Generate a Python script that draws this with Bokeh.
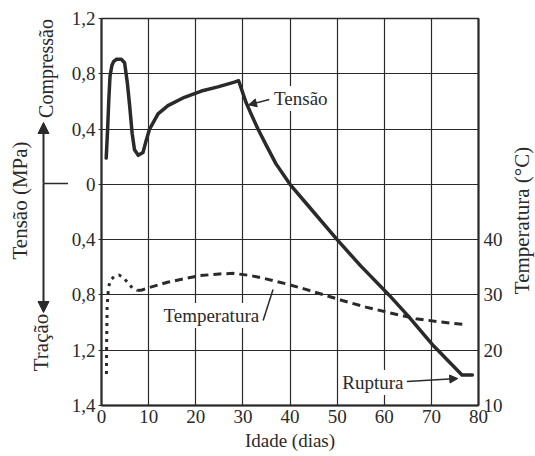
from math import pi
from bokeh.plotting import figure
from bokeh.layouts import row
from bokeh.models import Range1d, LinearAxis, FixedTicker, Label, Arrow, NormalHead
from bokeh.embed import file_html
from bokeh.resources import INLINE

# ---- data ----
days_tension = [1.0, 1.3, 1.55, 1.8, 2.2, 2.6, 3.2, 4.2, 4.9, 5.5, 6.0, 6.5, 7.0, 7.8,
                8.8, 9.5, 10.2, 12.0, 14.1, 17.6, 21.2, 24.7, 28.2, 29.1, 30.7, 32.0,
                33.2, 35.0, 37.0, 40.0, 45.0, 50.0, 55.0, 61.0, 65.0, 70.5, 76.5, 78.7]
tension_mpa = [0.19, 0.40, 0.61, 0.78, 0.86, 0.89, 0.905, 0.905, 0.88, 0.73, 0.56, 0.37,
               0.25, 0.21, 0.23, 0.32, 0.40, 0.51, 0.57, 0.63, 0.675, 0.705, 0.74, 0.75,
               0.59, 0.49, 0.40, 0.28, 0.15, 0.0, -0.20, -0.40, -0.59, -0.80, -0.95,
               -1.17, -1.38, -1.38]

days_temp = [1.05, 1.1, 1.2, 1.5, 2.0, 2.8, 3.7, 4.6, 5.6, 6.6, 7.6, 8.6, 10.0, 14.0,
             18.0, 21.0, 25.0, 28.0, 31.7, 34.9, 39.2, 43.0, 47.6, 51.1, 56.1, 61.0,
             66.7, 72.0, 77.6]
temperature_c = [15.7, 22.0, 28.0, 31.5, 32.8, 33.4, 33.6, 33.2, 32.2, 31.2, 30.8, 30.9,
                 31.3, 32.3, 33.0, 33.5, 33.8, 33.9, 33.5, 32.9, 32.0, 31.1, 29.9, 29.0,
                 27.8, 26.8, 25.7, 25.1, 24.6]

x_ticks = [0, 10, 20, 30, 40, 50, 60, 70, 80]
tension_ticks = [-1.6, -1.2, -0.8, -0.4, 0.0, 0.4, 0.8, 1.2]
tension_tick_labels = ["1,4", "1,2", "0,8", "0,4", "0", "0,4", "0,8", "1,2"]
temp_ticks = [10, 20, 30, 40]

FONT = "'Liberation Serif', 'Times New Roman', serif"
INK = "#2a2a2a"
FS = "19px"
FS_ROT = "21px"
H = 456
TOP, BOTTOM = 18, 51          # borders of the plotting frame (shared by the row)

# ---------------- main chart ----------------
p = figure(width=440, height=H, output_backend="svg", toolbar_location=None,
           x_range=Range1d(0, 80), y_range=Range1d(-1.6, 1.2),
           min_border_left=32, min_border_right=30, min_border_top=TOP,
           min_border_bottom=BOTTOM, background_fill_color="white",
           border_fill_color="white")
p.extra_y_ranges = {"temp": Range1d(10, 80)}
p.outline_line_color = INK
p.outline_line_width = 1.5

p.xaxis.ticker = FixedTicker(ticks=x_ticks)
p.yaxis.ticker = FixedTicker(ticks=tension_ticks)
p.yaxis.major_label_overrides = dict(zip(tension_ticks, tension_tick_labels))
right = LinearAxis(y_range_name="temp", ticker=FixedTicker(ticks=temp_ticks))
p.add_layout(right, "right")
p.xaxis.axis_label = "Idade (dias)"

for ax in [p.xaxis[0], p.yaxis[0], right]:
    ax.axis_line_color = INK
    ax.axis_line_width = 2
    ax.major_tick_in = 0
    ax.minor_tick_line_color = None
    ax.major_label_text_font = FONT
    ax.major_label_text_font_size = FS
    ax.major_label_text_color = INK
    ax.major_tick_line_color = INK
    ax.major_tick_line_width = 1.2
    ax.axis_label_text_font = FONT
    ax.axis_label_text_font_style = "normal"
    ax.axis_label_text_color = INK
p.xaxis.major_tick_out = 0
p.xaxis.major_label_standoff = 4
p.xaxis.axis_label_text_font_size = FS
p.xaxis.axis_label_standoff = 4
p.yaxis.major_tick_out = 3
p.yaxis.major_label_standoff = 3
right.major_tick_out = 0
right.major_label_standoff = 5

p.xgrid.ticker = FixedTicker(ticks=x_ticks)
p.ygrid.ticker = FixedTicker(ticks=tension_ticks)
for g in [p.xgrid[0], p.ygrid[0]]:
    g.grid_line_color = INK
    g.grid_line_width = 1.2
    g.grid_line_alpha = 1.0

p.line(days_tension, tension_mpa, line_width=3.5, line_color=INK,
       line_join="round", line_cap="round")
p.line(days_temp[:11], temperature_c[:11], y_range_name="temp", line_width=3,
       line_color=INK, line_dash="3 5")
p.line(days_temp[10:], temperature_c[10:], y_range_name="temp", line_width=3,
       line_color=INK, line_dash="8 5")


def lab(fig, text, x, y, angle=0.0, bg=None, size=FS):
    l = Label(x=x, y=y, text=text, angle=angle,
              text_align="center", text_baseline="middle", text_font=FONT,
              text_font_size=size, text_color=INK)
    if bg:
        l.background_fill_color = bg
        l.padding = 2
    fig.add_layout(l)


lab(p, "Tensão", 42.3, 0.621, bg="white")
p.add_layout(Arrow(x_start=35.6, y_start=0.614, x_end=31.2, y_end=0.575,
                   line_color=INK, line_width=1.5,
                   end=NormalHead(size=8, fill_color=INK, line_color=INK)))
lab(p, "Temperatura", 23.3, -0.949, bg="white")
p.add_layout(Arrow(x_start=34.3, y_start=-0.985, x_end=36.4, y_end=-0.76,
                   line_color=INK, line_width=1.5, end=None))
lab(p, "Ruptura", 57.6, -1.434, bg="white")
p.add_layout(Arrow(x_start=64.8, y_start=-1.427, x_end=75.6, y_end=-1.405,
                   line_color=INK, line_width=1.5,
                   end=NormalHead(size=8, fill_color=INK, line_color=INK)))


def panel(w):
    # side panel whose frame is aligned with the main frame; y data = H - page_y
    f = figure(width=w, height=H, output_backend="svg", toolbar_location=None,
               x_range=Range1d(0, w), y_range=Range1d(BOTTOM, H - TOP),
               min_border=0, min_border_top=TOP, min_border_bottom=BOTTOM,
               x_axis_type=None, y_axis_type=None,
               background_fill_color="white", border_fill_color="white")
    f.outline_line_color = None
    f.grid.visible = False
    return f


# ---------------- left panel: axis title with arrows ----------------
side = panel(68)
lab(side, "Compressão", 45, H - 68, angle=pi / 2, size="20px")
lab(side, "Tensão (MPa)", 19, H - 200, angle=pi / 2, size=FS_ROT)
lab(side, "Tração", 40, H - 342, angle=pi / 2, size=FS_ROT)
head = dict(size=11, fill_color=INK, line_color=INK)
side.add_layout(Arrow(x_start=43, y_start=H - 183, x_end=43, y_end=H - 122,
                      line_color=INK, line_width=2, end=NormalHead(**head)))
side.add_layout(Arrow(x_start=43, y_start=H - 183, x_end=43, y_end=H - 312,
                      line_color=INK, line_width=2, end=NormalHead(**head)))
side.add_layout(Arrow(x_start=43, y_start=H - 183, x_end=68, y_end=H - 183,
                      line_color=INK, line_width=1.5, end=None))

# ---------------- right panel: temperature axis title ----------------
rside = panel(27)
lab(rside, "Temperatura (°C)", 13, H - 220, angle=pi / 2, size=FS_ROT)

layout = row(side, p, rside, spacing=0)
open("out.html", "w").write(file_html(layout, INLINE))
